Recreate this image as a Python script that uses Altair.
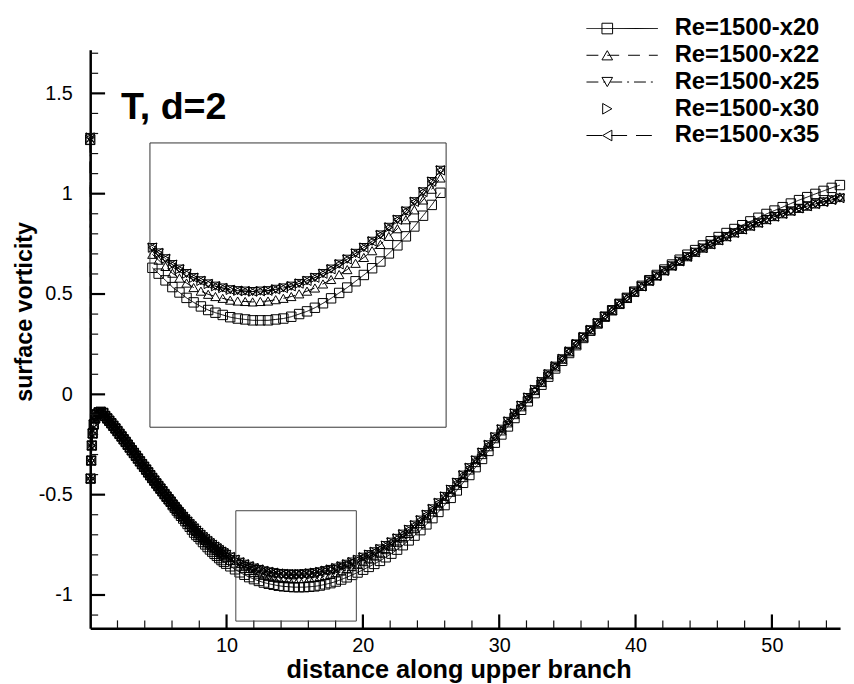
import altair as alt
import pandas as pd

# ---------------- data ----------------
series_names = ["Re=1500-x20", "Re=1500-x22", "Re=1500-x25", "Re=1500-x30", "Re=1500-x35"]
marker_shapes = ["square", "triangle-up", "triangle-down", "triangle-right", "triangle-left"]
line_dashes = [[1, 0], [12, 9], [12, 5, 2, 5], [1, 0], [16, 9]]
line_series = ["Re=1500-x20", "Re=1500-x22", "Re=1500-x25", "Re=1500-x35"]  # x30 has symbols only

x_dist = [0, 0.03, 0.07, 0.12, 0.18, 0.26, 0.36, 0.48, 0.62, 0.78, 0.96,
          1.1, 1.25, 1.4, 1.55, 1.7, 1.85, 2.0, 2.15, 2.3, 2.45, 2.6, 2.75, 2.9, 3.05, 3.2,
          3.35, 3.5, 3.65, 3.8, 3.95, 4.1, 4.25, 4.4, 4.55, 4.7, 4.85, 5.0, 5.15, 5.3, 5.45,
          5.6, 5.75, 5.9, 6.05, 6.2, 6.35, 6.5, 6.66, 6.82, 6.98, 7.14, 7.3, 7.46, 7.62, 7.78,
          7.94, 8.1, 8.27, 8.44, 8.61, 8.78, 8.95, 9.12, 9.29, 9.46, 9.63, 9.8, 9.97,
          10.28, 10.62, 10.96, 11.31, 11.66, 12.01, 12.37, 12.73, 13.09, 13.45, 13.82, 14.19, 14.56, 14.93,
          15.31, 15.69, 16.07, 16.45, 16.84, 17.23, 17.62, 18.01, 18.41, 18.81, 19.21, 19.61, 20.02, 20.43,
          20.84, 21.25, 21.67, 22.09, 22.51, 22.93, 23.36, 23.79, 24.22, 24.66, 25.1, 25.54, 25.99, 26.44,
          26.89, 27.35, 27.81, 28.27, 28.74, 29.21, 29.68,
          30.16, 30.64, 31.12, 31.61, 32.1, 32.6, 33.1, 33.6, 34.11, 34.62, 35.13, 35.65, 36.17, 36.69,
          37.22, 37.75, 38.28, 38.82, 39.36, 39.9, 40.45, 41.0, 41.55, 42.11, 42.67, 43.23, 43.8, 44.37,
          44.94, 45.51, 46.09, 46.67, 47.25, 47.83, 48.42, 49.01, 49.6, 50.19, 50.79, 51.39, 51.99, 52.59,
          53.19, 53.79, 54.39, 54.99]

y_x20 = [1.27, -0.42, -0.33, -0.255, -0.195, -0.15, -0.12, -0.10, -0.09, -0.087, -0.093,
         -0.108, -0.120, -0.132, -0.144, -0.157, -0.170, -0.183, -0.197, -0.210, -0.224, -0.237, -0.251,
         -0.265, -0.279, -0.292, -0.306, -0.320, -0.334, -0.348, -0.361, -0.375, -0.389, -0.403, -0.417,
         -0.430, -0.444, -0.457, -0.470, -0.483, -0.497, -0.510, -0.523, -0.535,
         -0.552, -0.565, -0.579, -0.592, -0.605, -0.619, -0.632, -0.646, -0.660, -0.674, -0.689, -0.701,
         -0.710, -0.722, -0.736, -0.748, -0.761, -0.773, -0.784, -0.795, -0.805, -0.816, -0.826, -0.835,
         -0.844,
         -0.857, -0.872, -0.887, -0.899, -0.911, -0.921, -0.930, -0.938, -0.944, -0.949, -0.954, -0.957,
         -0.959, -0.961, -0.961, -0.961, -0.959, -0.957, -0.953, -0.947, -0.941, -0.933, -0.923, -0.912,
         -0.900, -0.888, -0.874, -0.860, -0.845, -0.830, -0.812, -0.794, -0.774, -0.752, -0.728, -0.704,
         -0.677, -0.648, -0.617, -0.586, -0.552, -0.516, -0.479, -0.441, -0.402, -0.363, -0.322, -0.282,
         -0.241,
         -0.200, -0.160, -0.118, -0.077, -0.035, 0.006, 0.048, 0.088, 0.129, 0.167, 0.206, 0.245, 0.281,
         0.317, 0.353, 0.387, 0.419, 0.451, 0.481, 0.512, 0.541, 0.569, 0.595, 0.622, 0.647, 0.671, 0.696,
         0.719, 0.742, 0.763, 0.784, 0.804, 0.824, 0.843, 0.862, 0.880, 0.899, 0.916, 0.933, 0.951, 0.968,
         0.983, 0.999, 1.014, 1.029, 1.043]

y_x22 = [1.265, -0.42, -0.33, -0.255, -0.195, -0.15, -0.12, -0.10, -0.09, -0.087, -0.093,
         -0.108, -0.120, -0.132, -0.144, -0.157, -0.170, -0.183, -0.197, -0.210, -0.224, -0.237, -0.251,
         -0.265, -0.279, -0.292, -0.306, -0.320, -0.334, -0.348, -0.361, -0.375, -0.389, -0.403, -0.417,
         -0.430, -0.444, -0.457, -0.470, -0.483, -0.497, -0.510, -0.523, -0.535, -0.548, -0.560, -0.573,
         -0.585, -0.597, -0.610, -0.622,
         -0.635, -0.648, -0.660, -0.671, -0.683, -0.695, -0.705, -0.717, -0.728, -0.739, -0.750, -0.760,
         -0.769, -0.778, -0.788, -0.797, -0.805, -0.814,
         -0.827, -0.841, -0.856, -0.867, -0.878, -0.888, -0.896, -0.903, -0.908, -0.912, -0.916, -0.918,
         -0.919, -0.920, -0.919, -0.918, -0.915, -0.912, -0.908, -0.902, -0.896, -0.889, -0.880, -0.870,
         -0.859, -0.848, -0.834, -0.821, -0.806, -0.792, -0.774, -0.757, -0.737, -0.715, -0.693, -0.669,
         -0.644, -0.616, -0.586, -0.556, -0.523, -0.488, -0.453, -0.415, -0.377, -0.340, -0.300, -0.261,
         -0.221,
         -0.182, -0.142, -0.101, -0.062, -0.021, 0.019, 0.059, 0.098, 0.137, 0.175, 0.212, 0.250, 0.285,
         0.321, 0.355, 0.388, 0.419, 0.451, 0.480, 0.510, 0.538, 0.565, 0.590, 0.616, 0.640, 0.663, 0.686,
         0.708, 0.729, 0.748, 0.768, 0.786, 0.805, 0.822, 0.839, 0.855, 0.871, 0.886, 0.900, 0.914, 0.927,
         0.938, 0.949, 0.961, 0.972, 0.984]

y_x25 = [1.28, -0.42, -0.33, -0.255, -0.195, -0.15, -0.12, -0.10, -0.09, -0.087, -0.093,
         -0.108, -0.120, -0.132, -0.144, -0.157, -0.170, -0.183, -0.197, -0.210, -0.224, -0.237, -0.251,
         -0.265, -0.279, -0.292, -0.306, -0.320, -0.334, -0.348, -0.361, -0.375, -0.389, -0.403, -0.417,
         -0.430, -0.444, -0.457, -0.470, -0.483, -0.497, -0.510, -0.523, -0.535, -0.548, -0.560, -0.573,
         -0.585, -0.597, -0.610, -0.622, -0.634, -0.646, -0.657, -0.668, -0.679, -0.690, -0.700, -0.711,
         -0.721, -0.731, -0.741, -0.750, -0.759, -0.767, -0.776, -0.784, -0.791, -0.799,
         -0.811, -0.824, -0.837, -0.847, -0.857, -0.866, -0.873, -0.880, -0.885, -0.889, -0.893, -0.895,
         -0.896, -0.897, -0.896, -0.895, -0.892, -0.889, -0.885, -0.879, -0.873, -0.866, -0.857, -0.847,
         -0.836, -0.825, -0.812, -0.799, -0.785, -0.771, -0.754, -0.737, -0.718, -0.697, -0.675, -0.652,
         -0.627, -0.600, -0.571, -0.541, -0.509, -0.475, -0.440, -0.403, -0.366, -0.329, -0.290, -0.252,
         -0.213,
         -0.174, -0.135, -0.095, -0.056, -0.016, 0.023, 0.063, 0.101, 0.140, 0.177, 0.214, 0.251, 0.286,
         0.321, 0.355, 0.388, 0.419, 0.451, 0.480, 0.510, 0.538, 0.565, 0.590, 0.616, 0.640, 0.663, 0.686,
         0.708, 0.729, 0.748, 0.768, 0.786, 0.805, 0.822, 0.839, 0.855, 0.871, 0.886, 0.900, 0.914, 0.927,
         0.938, 0.949, 0.959, 0.969, 0.978]

y_x30 = [1.28, -0.42, -0.33, -0.255, -0.195, -0.15, -0.12, -0.10, -0.09, -0.087, -0.093,
         -0.108, -0.120, -0.132, -0.144, -0.157, -0.170, -0.183, -0.197, -0.210, -0.224, -0.237, -0.251,
         -0.265, -0.279, -0.292, -0.306, -0.320, -0.334, -0.348, -0.361, -0.375, -0.389, -0.403, -0.417,
         -0.430, -0.444, -0.457, -0.470, -0.483, -0.497, -0.510, -0.523, -0.535, -0.548, -0.560, -0.573,
         -0.585, -0.597, -0.610, -0.622, -0.634, -0.646, -0.657, -0.668, -0.679, -0.690, -0.700, -0.711,
         -0.721, -0.731, -0.741, -0.750, -0.759, -0.767, -0.776, -0.784, -0.791, -0.799,
         -0.811, -0.824, -0.837, -0.847, -0.857, -0.866, -0.873, -0.880, -0.885, -0.889, -0.893, -0.895,
         -0.896, -0.897, -0.896, -0.895, -0.892, -0.889, -0.885, -0.879, -0.873, -0.866, -0.857, -0.847,
         -0.836, -0.825, -0.812, -0.799, -0.785, -0.771, -0.754, -0.737, -0.718, -0.697, -0.675, -0.652,
         -0.627, -0.600, -0.571, -0.541, -0.509, -0.475, -0.440, -0.403, -0.366, -0.329, -0.290, -0.252,
         -0.213,
         -0.174, -0.135, -0.095, -0.056, -0.016, 0.023, 0.063, 0.101, 0.140, 0.177, 0.214, 0.251, 0.286,
         0.321, 0.355, 0.388, 0.419, 0.451, 0.480, 0.510, 0.538, 0.565, 0.590, 0.616, 0.640, 0.663, 0.686,
         0.708, 0.729, 0.748, 0.768, 0.786, 0.805, 0.822, 0.839, 0.855, 0.871, 0.886, 0.900, 0.914, 0.927,
         0.938, 0.949, 0.959, 0.969, 0.978]

y_x35 = [1.28, -0.42, -0.33, -0.255, -0.195, -0.15, -0.12, -0.10, -0.09, -0.087, -0.093,
         -0.108, -0.120, -0.132, -0.144, -0.157, -0.170, -0.183, -0.197, -0.210, -0.224, -0.237, -0.251,
         -0.265, -0.279, -0.292, -0.306, -0.320, -0.334, -0.348, -0.361, -0.375, -0.389, -0.403, -0.417,
         -0.430, -0.444, -0.457, -0.470, -0.483, -0.497, -0.510, -0.523, -0.535, -0.548, -0.560, -0.573,
         -0.585, -0.597, -0.610, -0.622, -0.634, -0.646, -0.657, -0.668, -0.679, -0.690, -0.700, -0.711,
         -0.721, -0.731, -0.741, -0.750, -0.759, -0.767, -0.776, -0.784, -0.791, -0.799,
         -0.811, -0.824, -0.837, -0.847, -0.857, -0.866, -0.873, -0.880, -0.885, -0.889, -0.893, -0.895,
         -0.896, -0.897, -0.896, -0.895, -0.892, -0.889, -0.885, -0.879, -0.873, -0.866, -0.857, -0.847,
         -0.836, -0.825, -0.812, -0.799, -0.785, -0.771, -0.754, -0.737, -0.718, -0.697, -0.675, -0.652,
         -0.627, -0.600, -0.571, -0.541, -0.509, -0.475, -0.440, -0.403, -0.366, -0.329, -0.290, -0.252,
         -0.213,
         -0.174, -0.135, -0.095, -0.056, -0.016, 0.023, 0.063, 0.101, 0.140, 0.177, 0.214, 0.251, 0.286,
         0.321, 0.355, 0.388, 0.419, 0.451, 0.480, 0.510, 0.538, 0.565, 0.590, 0.616, 0.640, 0.663, 0.686,
         0.708, 0.729, 0.748, 0.768, 0.786, 0.805, 0.822, 0.839, 0.855, 0.871, 0.886, 0.900, 0.914, 0.927,
         0.938, 0.949, 0.959, 0.969, 0.978]

# axes / ticks
x_domain = [0, 55]
y_domain = [-1.166, 1.717]
x_major = [10, 20, 30, 40, 50]
x_minor = [2, 4, 6, 8, 12, 14, 16, 18, 22, 24, 26, 28, 32, 34, 36, 38, 42, 44, 46, 48, 52, 54]
y_major = [-1, -0.5, 0, 0.5, 1, 1.5]
y_minor = [-1.1, -0.9, -0.8, -0.7, -0.6, -0.4, -0.3, -0.2, -0.1, 0.1, 0.2, 0.3, 0.4,
           0.6, 0.7, 0.8, 0.9, 1.1, 1.2, 1.3, 1.4, 1.6, 1.7]

# zoom box in main plot and the magnified inset view
zoom_box = [10.68, 19.52, -1.13, -0.58]
inset_x = [9.85, 24.5]
inset_y = [-1.199, -0.566]
panel_label = "T, d=2"

# ---------------- build ----------------
all_y = [y_x20, y_x22, y_x25, y_x30, y_x35]
for ys in all_y:
    assert len(ys) == len(x_dist), (len(ys), len(x_dist))
rows = []
for name, ys in zip(series_names, all_y):
    for i, (xv, yv) in enumerate(zip(x_dist, ys)):
        rows.append({"series": name, "x": xv, "y": yv, "i": i})
df = pd.DataFrame(rows)

W, H = 757, 584
FONT = "Liberation Sans"

xs_main = alt.Scale(domain=x_domain, nice=False, zero=False)
ys_main = alt.Scale(domain=y_domain, nice=False, zero=False)
xs_in = alt.Scale(domain=inset_x, range=[60.3, 359.3], nice=False, zero=False)
ys_in = alt.Scale(domain=inset_y, range=[381, 94], nice=False, zero=False)
dash_scale = alt.Scale(domain=series_names, range=line_dashes)
shape_scale = alt.Scale(domain=series_names, range=marker_shapes)

x_axis = alt.Axis(values=x_major, ticks=False, labelPadding=7, labelFontSize=20, labelColor="black",
                  labelExpr="datum.value + ''", labelFlush=False, labelOverlap=False,
                  domainWidth=2.5, domainColor="black", grid=False,
                  title="distance along upper branch", titleFontSize=25.5, titleFontWeight="bold",
                  titleColor="black", titleBaseline="alphabetic", titleX=372, titleY=50)
y_axis = alt.Axis(values=y_major, ticks=False, labelPadding=18, labelFontSize=20, labelColor="black",
                  labelExpr="datum.value + ''", labelFlush=False, labelOverlap=False,
                  domainWidth=2.5, domainColor="black", grid=False,
                  title="surface vorticity", titleFontSize=23.5, titleFontWeight="bold",
                  titleColor="black", titleAngle=270, titleBaseline="middle", titleX=-66, titleY=264)

line_filter = alt.FieldOneOfPredicate(field="series", oneOf=line_series)

main_lines = alt.Chart(df).transform_filter(line_filter).mark_line(color="black", strokeWidth=1).encode(
    x=alt.X("x:Q", scale=xs_main, axis=x_axis),
    y=alt.Y("y:Q", scale=ys_main, axis=y_axis),
    strokeDash=alt.StrokeDash("series:N", scale=dash_scale, legend=None),
    detail="series:N", order="i:Q")
main_points = alt.Chart(df).mark_point(filled=False, color="black", strokeWidth=1, size=90, opacity=1).encode(
    x=alt.X("x:Q", scale=xs_main, axis=x_axis),
    y=alt.Y("y:Q", scale=ys_main, axis=y_axis),
    shape=alt.Shape("series:N", scale=shape_scale, legend=None))

xt_major = alt.Chart(pd.DataFrame({"t": x_major})).mark_rule(color="black", strokeWidth=2.2).encode(
    x=alt.X("t:Q", scale=xs_main, axis=x_axis), y=alt.value(H), y2=alt.value(H - 14))
xt_minor = alt.Chart(pd.DataFrame({"t": x_minor})).mark_rule(color="#111", strokeWidth=1.2).encode(
    x=alt.X("t:Q", scale=xs_main, axis=x_axis), y=alt.value(H), y2=alt.value(H - 8))
yt_major = alt.Chart(pd.DataFrame({"t": y_major})).mark_rule(color="black", strokeWidth=2.2).encode(
    y=alt.Y("t:Q", scale=ys_main, axis=y_axis), x=alt.value(0), x2=alt.value(15))
yt_minor = alt.Chart(pd.DataFrame({"t": y_minor})).mark_rule(color="#111", strokeWidth=1.2).encode(
    y=alt.Y("t:Q", scale=ys_main, axis=y_axis), x=alt.value(0), x2=alt.value(8))

zb = pd.DataFrame({"x0": [zoom_box[0]], "x1": [zoom_box[1]], "y0": [zoom_box[2]], "y1": [zoom_box[3]]})
zoom_rect = alt.Chart(zb).mark_rect(fillOpacity=0, stroke="#444", strokeWidth=1).encode(
    x=alt.X("x0:Q", scale=xs_main, axis=x_axis), x2="x1:Q",
    y=alt.Y("y0:Q", scale=ys_main, axis=y_axis), y2="y1:Q")

main = alt.layer(main_lines, main_points, xt_major, xt_minor, yt_major, yt_minor, zoom_rect)

inset_filter = (f"datum.x >= {inset_x[0]} && datum.x <= {inset_x[1]} && "
                f"datum.y >= {inset_y[0]} && datum.y <= {inset_y[1]}")
inset_lines = alt.Chart(df).transform_filter(line_filter).transform_filter(inset_filter).mark_line(
    color="black", strokeWidth=1).encode(
    x=alt.X("x:Q", scale=xs_in, axis=None),
    y=alt.Y("y:Q", scale=ys_in, axis=None),
    strokeDash=alt.StrokeDash("series:N", scale=dash_scale, legend=None),
    detail="series:N", order="i:Q")
inset_points = alt.Chart(df).transform_filter(inset_filter).mark_point(
    filled=False, color="black", strokeWidth=1, size=90, opacity=1).encode(
    x=alt.X("x:Q", scale=xs_in, axis=None),
    y=alt.Y("y:Q", scale=ys_in, axis=None),
    shape=alt.Shape("series:N", scale=shape_scale, legend=None))
ib = pd.DataFrame({"x0": [inset_x[0]], "x1": [inset_x[1]], "y0": [inset_y[0]], "y1": [inset_y[1]]})
inset_box = alt.Chart(ib).mark_rect(fillOpacity=0, stroke="#333", strokeWidth=1).encode(
    x=alt.X("x0:Q", scale=xs_in, axis=None), x2="x1:Q",
    y=alt.Y("y0:Q", scale=ys_in, axis=None), y2="y1:Q")
inset = alt.layer(inset_lines, inset_points, inset_box)

leg_df = pd.DataFrame({"series": series_names})
leg_y = alt.Y("series:N", scale=alt.Scale(type="point", domain=series_names, range=[-21.5, 86.5], padding=0),
              axis=None)
leg_lines = alt.Chart(leg_df).transform_filter(line_filter).mark_rule(color="black", strokeWidth=1).encode(
    y=leg_y, x=alt.value(501), x2=alt.value(573),
    strokeDash=alt.StrokeDash("series:N", scale=dash_scale, legend=None))
leg_pts = alt.Chart(leg_df).mark_point(filled=False, color="black", strokeWidth=1, size=115, opacity=1).encode(
    y=leg_y, x=alt.value(522), shape=alt.Shape("series:N", scale=shape_scale, legend=None))
leg_txt = alt.Chart(leg_df).mark_text(align="left", baseline="middle", fontSize=24, fontWeight="bold",
                                      color="black", font=FONT).encode(
    y=leg_y, x=alt.value(590), text="series:N")
legend = alt.layer(leg_lines, leg_pts, leg_txt)

label = alt.Chart(pd.DataFrame({"label": [panel_label]})).mark_text(
    align="left", baseline="alphabetic", fontSize=38, fontWeight="bold", color="black", font=FONT).encode(
    x=alt.value(31), y=alt.value(70), text="label:N")

chart = alt.layer(main, inset, legend, label).resolve_scale(
    x="independent", y="independent"
).properties(
    width=W, height=H,
    autosize=alt.AutoSizeParams(type="none"),
    padding={"left": 83, "top": 39, "right": 6, "bottom": 53},
).configure_view(stroke=None).configure_axis(
    labelFont=FONT, titleFont=FONT
).configure_text(font=FONT)

chart.save("out.html", embed_options={"renderer": "svg", "actions": False})
